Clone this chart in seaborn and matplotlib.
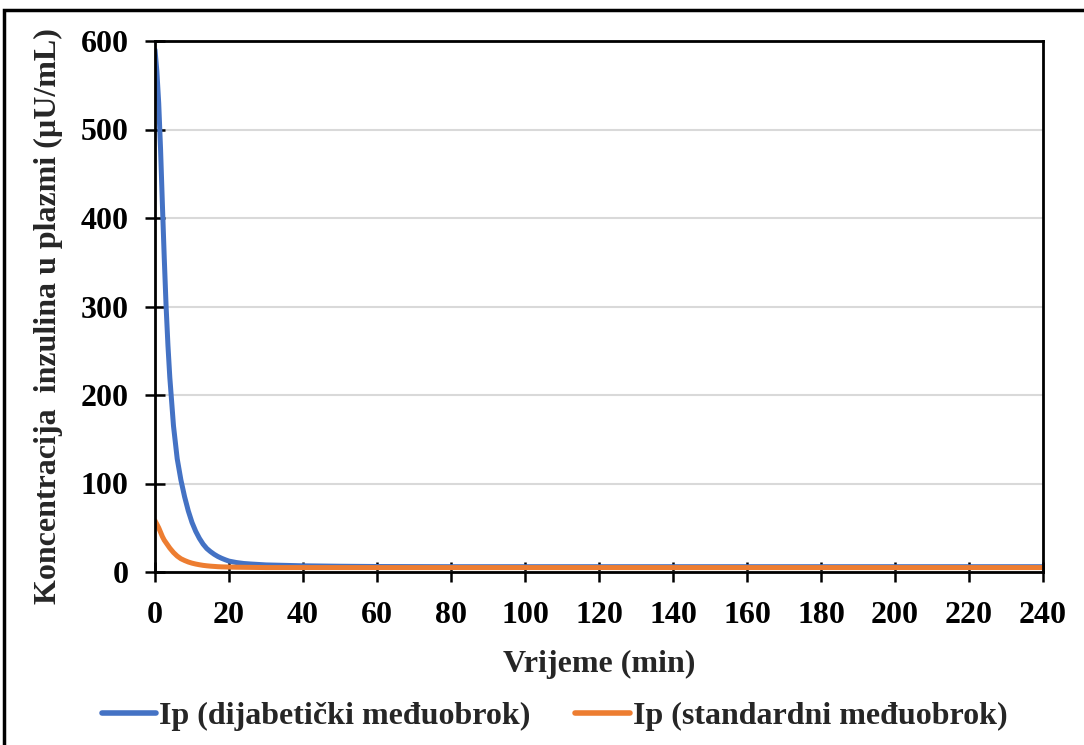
import matplotlib
matplotlib.use("Agg")
import matplotlib.pyplot as plt
import seaborn as sns
import pandas as pd
from matplotlib.patches import Rectangle

# Data
time_min = [0, 0.5, 1, 1.5, 2, 2.5, 3, 3.5, 4, 5, 6, 7, 8, 9, 10, 11, 12, 13, 14, 15,
            16, 17, 18, 19, 20, 22, 24, 26, 28, 30, 35, 40, 50, 60, 80, 100, 120,
            140, 160, 180, 200, 220, 240]
ip_diabetic = [590, 566, 530, 478, 415, 355, 300, 256, 220, 165, 128, 104, 85, 69, 56,
               46, 38, 31.5, 26.5, 23, 20, 17.5, 15.5, 13.8, 12.3, 10.7, 9.6, 9, 8.5, 8,
               7.5, 7, 6.5, 6.2, 6, 6, 6, 6, 6, 6, 6, 6, 6]
ip_standard = [58, 54, 50, 45, 40, 36, 33, 30, 27, 22, 18, 15, 13, 11.3, 10, 9, 8.2,
               7.5, 7, 6.6, 6.3, 6, 5.8, 5.7, 5.6, 5.4, 5.3, 5.2, 5.1, 5, 5, 5, 5, 5,
               5, 5, 5, 5, 5, 5, 5, 5, 5]
series_names = ["Ip (dijabetički međuobrok)", "Ip (standardni međuobrok)"]
x_ticks = list(range(0, 241, 20))
y_ticks = list(range(0, 601, 100))

df = pd.concat([
    pd.DataFrame({"t": time_min, "v": ip_diabetic, "s": series_names[0]}),
    pd.DataFrame({"t": time_min, "v": ip_standard, "s": series_names[1]}),
])

sns.set_theme(style="white")
plt.rcParams["font.family"] = ["Liberation Serif", "DejaVu Serif"]
plt.rcParams["font.weight"] = "bold"

fig = plt.figure(figsize=(10.84, 7.45), dpi=100)
ax = fig.add_axes([155/1084, 1 - 572/745, (1043 - 155)/1084, (572 - 41)/745])

palette = {series_names[0]: "#4472C4", series_names[1]: "#ED7D31"}
sns.lineplot(data=df, x="t", y="v", hue="s", palette=palette, linewidth=3.6,
             ax=ax, sort=False, legend=True)

ax.set_xlim(0, 240)
ax.set_ylim(0, 600)
ax.set_xticks(x_ticks)
ax.set_yticks(y_ticks)
ax.yaxis.grid(True, color="#D9D9D9", linewidth=1.5)
ax.set_axisbelow(True)
for sp in ax.spines.values():
    sp.set_visible(True)
    sp.set_color("black")
    sp.set_linewidth(2)
ax.tick_params(axis="both", direction="inout", length=14, width=1.8,
               labelsize=23, colors="black", bottom=True, left=True)
ax.tick_params(axis="x", pad=14)
ax.tick_params(axis="y", pad=12)
for lab in ax.get_xticklabels() + ax.get_yticklabels():
    lab.set_fontweight("bold")
ax.set_xlabel("Vrijeme (min)", fontsize=23, fontweight="bold", labelpad=14)
ax.set_ylabel("Koncentracija  inzulina u plazmi (µU/mL)", fontsize=23,
              fontweight="bold")
ax.yaxis.set_label_coords(-0.104, 0.482)

handles, labels = ax.get_legend_handles_labels()
leg = ax.legend(handles, labels, loc="center", bbox_to_anchor=(0.45, -0.272),
                ncol=2, frameon=False, handlelength=1.7,
                handletextpad=0.1, columnspacing=1.4,
                prop={"weight": "bold", "size": 23})
for h in leg.get_lines():
    h.set_linewidth(4)

fig.patches.append(Rectangle((4/1084, -0.2), 1.5, 1 - 10/745 + 0.2,
                             transform=fig.transFigure, fill=False,
                             edgecolor="black", linewidth=2.5, zorder=0))

fig.savefig("out.png", dpi=100)
